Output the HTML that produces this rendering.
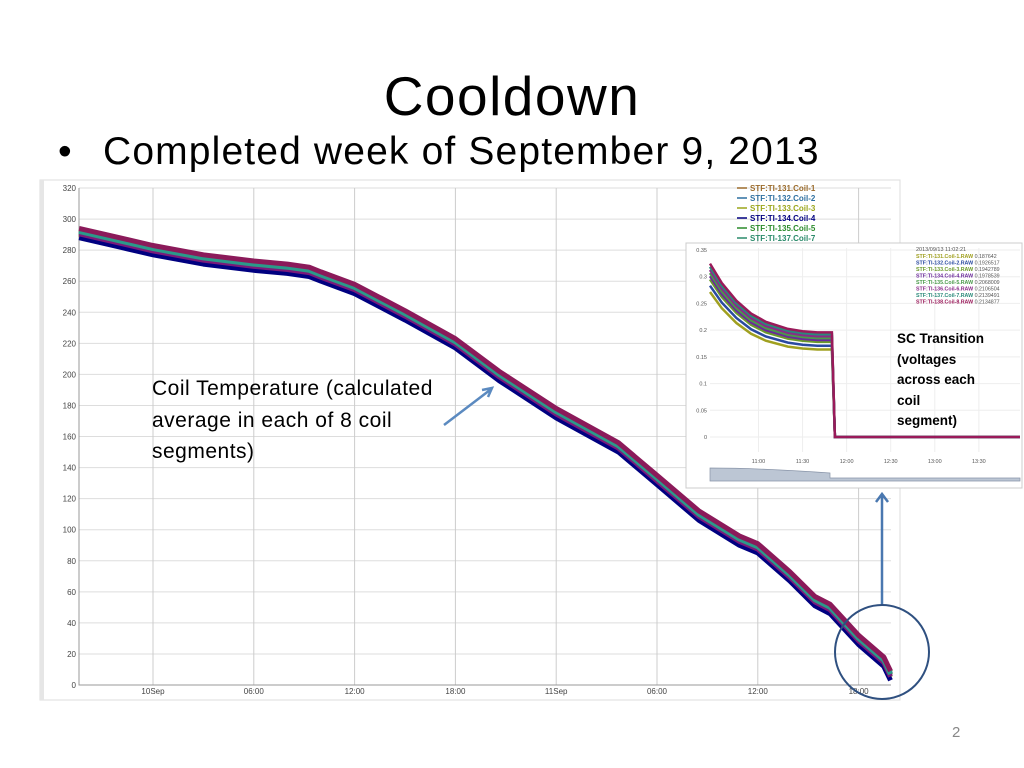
<!DOCTYPE html>
<html><head><meta charset="utf-8"><style>
body{margin:0;background:#fff;width:1024px;height:768px;overflow:hidden;position:relative;font-family:"Liberation Sans",sans-serif}
.t{position:absolute;font-family:"Liberation Sans",sans-serif;color:#000;white-space:nowrap}
</style></head><body>
<div class="t" style="left:0;width:1024px;text-align:center;top:64px;font-size:55px;letter-spacing:1.5px">Cooldown</div>
<div class="t" style="left:58px;top:130px;font-size:39px">•</div>
<div class="t" style="left:103px;top:130px;font-size:39px;letter-spacing:1.15px">Completed week of September 9, 2013</div>
<div class="t" style="left:952px;top:724px;font-size:15px;color:#888">2</div>
<svg id="svg" width="1024" height="768" style="position:absolute;left:0;top:0">
<rect x="40" y="180" width="860" height="520" fill="#fff" stroke="#ddd"/>
<rect x="40" y="180" width="4" height="520" fill="#e6e6e6"/>
<g id="main"></g>
<g id="inset"></g>
</svg>
<script>
const yTicks=[0,20,40,60,80,100,120,140,160,180,200,220,240,260,280,300,320];
const xTickHours=[0,6,12,18,24,30,36,42];
const xTickLabels=["10Sep","06:00","12:00","18:00","11Sep","06:00","12:00","18:00"];
const tempHours=[-4.4,-2,0,3,6,8,9.3,10,11,12,15,18,20.6,24,27.7,30,32.5,34.9,36,37.9,39.4,40.3,42,43.5,43.9];
const tempBase=[291,285,280,274,270,268,266,263,259,255,238,220,199,175,153,132,109,93,88,70,54,49,29,15,6];
const seriesOffsets=[2.5,1.5,-1,-3,0.5,-0.5,1,3];
const seriesColors=["#8b6a2a","#2e6fa0","#9aa51a","#000080","#2a8a2a","#7a1a7a","#2a9a8a","#8b1a5a"];
const legendNames=["STF:TI-131.Coil-1","STF:TI-132.Coil-2","STF:TI-133.Coil-3","STF:TI-134.Coil-4","STF:TI-135.Coil-5","STF:TI-137.Coil-7"];
const legendColors=["#9a6a2a","#2e6fa0","#9aa51a","#000080","#2a8a2a","#2a8a6a"];
const insetYTicks=[0,0.05,0.1,0.15,0.2,0.25,0.3,0.35];
const insetXTicks=[60,90,120,150,180,210];
const insetXLabels=["11:00","11:30","12:00","12:30","13:00","13:30"];
const voltMinutes=[27,35,45,55,65,80,90,100,110,111,112,120,150,238];
const voltBase=[0.295,0.262,0.232,0.210,0.196,0.184,0.180,0.178,0.178,0.09,0,0,0,0];
const voltScale=[0.92,0.96,1.0,1.02,1.04,1.06,1.08,1.1];
const insetNames=["STF:TI-131.Coil-1.RAW","STF:TI-132.Coil-2.RAW","STF:TI-133.Coil-3.RAW","STF:TI-134.Coil-4.RAW","STF:TI-135.Coil-5.RAW","STF:TI-136.Coil-6.RAW","STF:TI-137.Coil-7.RAW","STF:TI-138.Coil-8.RAW"];
const insetValues=["0.187642","0.1926517","0.1942789","0.1978539","0.2068009","0.2106504","0.2139491","0.2134877"];
const insetColors=["#a0a020","#2a4aa0","#6a9a2a","#6a2a9a","#4a9a4a","#8a2a8a","#2a8a7a","#9a1a5a"];
const NS="http://www.w3.org/2000/svg";
function mk(p,tag,a){const e=document.createElementNS(NS,tag);for(const k in a)e.setAttribute(k,a[k]);p.appendChild(e);return e;}
const X=h=>153+h*16.8, Y=v=>685-v*(497/320);
const g=document.getElementById('main');
yTicks.forEach(v=>{const l=mk(g,'line',{x1:79,x2:891,y1:Y(v),y2:Y(v),stroke:'#ddd'});

const t=mk(g,'text',{x:76,y:Y(v)+3,'text-anchor':'end','font-size':8,fill:'#444'});t.textContent=v;
});
xTickHours.forEach((h,i)=>{const l=mk(g,'line',{x1:X(h),x2:X(h),y1:188,y2:685,stroke:'#ccc'});

const t=mk(g,'text',{x:X(h),y:694,'text-anchor':'middle','font-size':8,fill:'#444'});t.textContent=xTickLabels[i];
});
const ax=mk(g,'path',{d:'M79 188V685H891',fill:'none',stroke:'#999'});

seriesOffsets.forEach((o,s)=>{const d=tempHours.map((h,i)=>(i?'L':'M')+X(h).toFixed(1)+' '+Y(tempBase[i]+o).toFixed(1)).join('');
const p=mk(g,'path',{d:d,fill:'none',stroke:seriesColors[s],'stroke-width':5,'stroke-linejoin':'round'});
});
legendNames.forEach((n,i)=>{const y=191+i*10;const l=mk(g,'line',{x1:737,x2:747,y1:y-3,y2:y-3,stroke:legendColors[i],'stroke-width':1.5});

const t=mk(g,'text',{x:750,y:y,'font-size':8,'font-weight':'bold',fill:legendColors[i]});t.textContent=n;
});
const ig=document.getElementById('inset');
const IX=m=>710+(m-27)*(310/211), IY=v=>437-v*(187/0.35);
let r=mk(ig,'rect',{x:686,y:243,width:336,height:245,fill:'#fff',stroke:'#ccc'});

insetYTicks.forEach(v=>{const l=mk(ig,'line',{x1:710,x2:1020,y1:IY(v),y2:IY(v),stroke:'#eee'});

const t=mk(ig,'text',{x:707,y:IY(v)+2,'text-anchor':'end','font-size':5.5,fill:'#555'});t.textContent=v;
});
insetXTicks.forEach((m,i)=>{const l=mk(ig,'line',{x1:IX(m),x2:IX(m),y1:248,y2:452,stroke:'#eee'});

const t=mk(ig,'text',{x:IX(m),y:463,'text-anchor':'middle','font-size':5.5,fill:'#555'});t.textContent=insetXLabels[i];
});
voltScale.forEach((k,s)=>{const d=voltMinutes.map((m,i)=>(i?'L':'M')+IX(m).toFixed(1)+' '+IY(voltBase[i]*k).toFixed(1)).join('');
const p=mk(ig,'path',{d:d,fill:'none',stroke:insetColors[s],'stroke-width':2.5});
});
let nav=mk(ig,'path',{d:'M710 468L710 481L1020 481L1020 478L830 478L830 473Q760 468 710 468Z',fill:'#bcc6d4',stroke:'#8894a8','stroke-width':0.7});

let t0=mk(ig,'text',{x:916,y:251,'font-size':5.5,fill:'#555'});t0.textContent='2013/09/13 11:02:21';

insetNames.forEach((n,i)=>{const t=mk(ig,'text',{x:916,y:258+i*6.5,'font-size':5.3,fill:'#555'});
const s=mk(t,'tspan',{fill:insetColors[i],'font-weight':'bold'});s.textContent=n;
const v=mk(t,'tspan',{});v.textContent=' '+insetValues[i];
});
let a1=mk(g,'path',{d:'M444 425L490 390M482 390L492 388L488 397',fill:'none',stroke:'#5b8ac0','stroke-width':2.5});

let a2=mk(g,'path',{d:'M887 378L850 389M856 383L848 390L857 394',fill:'none',stroke:'#5b8ac0','stroke-width':2.5});

let a3=mk(g,'path',{d:'M882 605L882 495M876 502L882 494L888 502',fill:'none',stroke:'#4a78b0','stroke-width':2.5});

let c=mk(g,'circle',{cx:882,cy:652,r:47,fill:'none',stroke:'#2f5080','stroke-width':2});

</script>
<div class="t" style="left:152px;top:373px;font-size:21px;letter-spacing:0.5px;line-height:31.5px">Coil Temperature (calculated<br>average in each of 8 coil<br>segments)</div>
<div class="t" style="left:897px;top:329px;font-size:13.5px;font-weight:bold;line-height:20.5px">SC Transition<br>(voltages<br>across each<br>coil<br>segment)</div>
</body></html>
